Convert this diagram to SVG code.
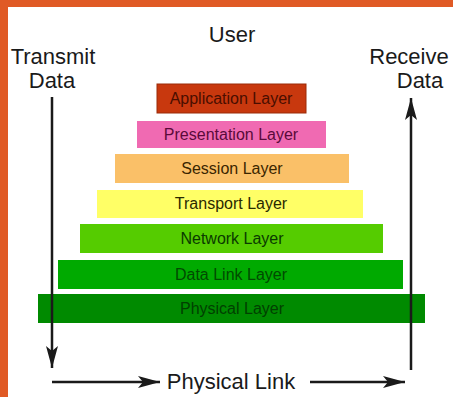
<svg xmlns="http://www.w3.org/2000/svg" width="453" height="397" viewBox="0 0 453 397">
<style>
.lbl{font-family:"Liberation Sans",Arial,sans-serif;font-size:22px;fill:#1a1a1a}
.lt{font-family:"Liberation Sans",Arial,sans-serif;font-size:16px;text-anchor:middle}
.ln{stroke:#1a1a1a;stroke-width:2.5;fill:none}
</style>
<defs>
<marker id="ah" viewBox="0 0 22 12" refX="22" refY="6" markerWidth="22" markerHeight="12" markerUnits="userSpaceOnUse" orient="auto">
<path d="M0,0 L22,6 L0,12 L5,6 Z" fill="#1a1a1a"/>
</marker>
</defs>
<rect x="0" y="0" width="453" height="397" fill="#ffffff"/>
<rect x="0" y="0" width="453" height="7" fill="#E05A25"/>
<rect x="0" y="0" width="8" height="397" fill="#E05A25"/>
<g id="labels">
<text class="lbl" x="232" y="42" text-anchor="middle">User</text>
<text class="lbl" x="53" y="64" text-anchor="middle">Transmit</text>
<text class="lbl" x="52" y="88" text-anchor="middle">Data</text>
<text class="lbl" x="409" y="64" text-anchor="middle">Receive</text>
<text class="lbl" x="420" y="88" text-anchor="middle">Data</text>
<text class="lbl" x="231" y="389" text-anchor="middle">Physical Link</text>
</g>
<g id="application"><rect x="157" y="84" width="149" height="29" fill="#C8380E" stroke="#9a2a08" stroke-width="1"/><text class="lt" x="231" y="104" fill="#4a0e00">Application Layer</text></g>
<g id="presentation"><rect x="137" y="121" width="189" height="27" fill="#F06AB2"/><text class="lt" x="231" y="140" fill="#5a0a3a">Presentation Layer</text></g>
<g id="session"><rect x="115" y="154" width="234" height="29" fill="#FAC068"/><text class="lt" x="232" y="174" fill="#3a2600">Session Layer</text></g>
<g id="transport"><rect x="97" y="190" width="266" height="28" fill="#FFFF66"/><text class="lt" x="231" y="209" fill="#2a2a00">Transport Layer</text></g>
<g id="network"><rect x="80" y="224" width="303" height="29" fill="#55CC00"/><text class="lt" x="232" y="244" fill="#0a3a00">Network Layer</text></g>
<g id="datalink"><rect x="58" y="260" width="345" height="29" fill="#00AA00"/><text class="lt" x="231" y="280" fill="#004a00">Data Link Layer</text></g>
<g id="physical"><rect x="38" y="294" width="387" height="29" fill="#008A00"/><text class="lt" x="232" y="314" fill="#004000">Physical Layer</text></g>
<g id="connectors">
<line class="ln" x1="52" y1="97" x2="52" y2="368" marker-end="url(#ah)"/>
<line class="ln" x1="411" y1="370" x2="411" y2="98" marker-end="url(#ah)"/>
<line class="ln" x1="52" y1="382" x2="160" y2="382" marker-end="url(#ah)"/>
<line class="ln" x1="310" y1="382" x2="405" y2="382" marker-end="url(#ah)"/>
</g>
</svg>
